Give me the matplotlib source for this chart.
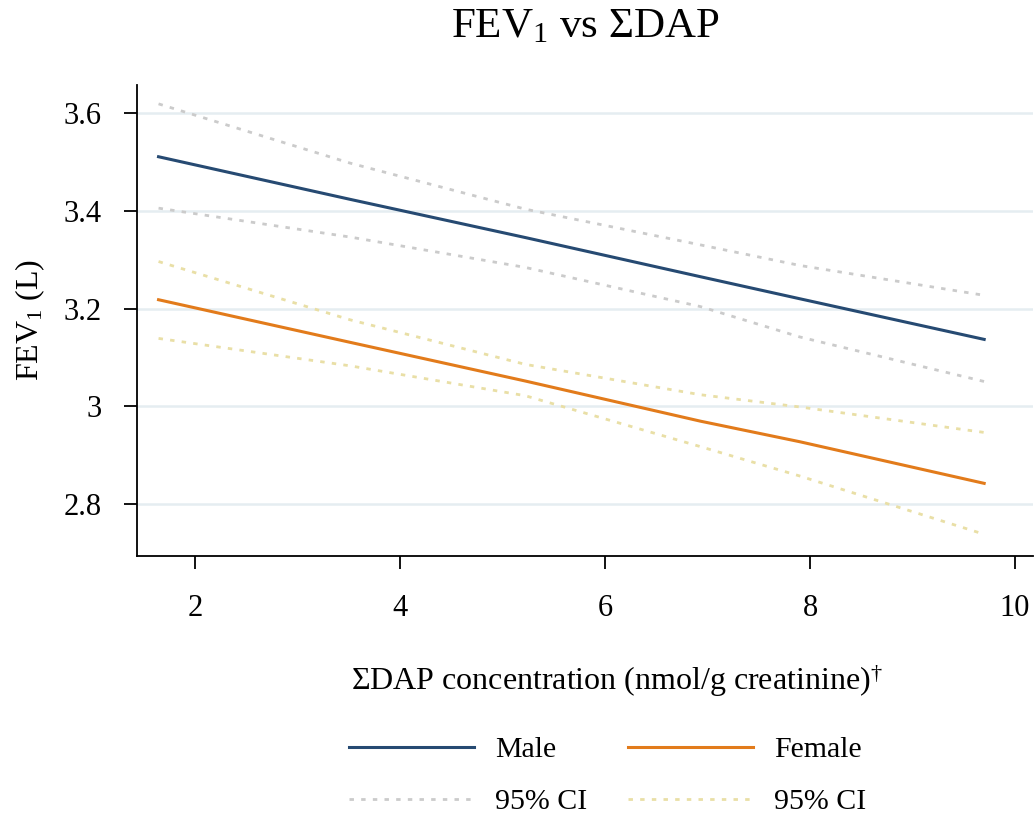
import numpy as np
import matplotlib
matplotlib.use('Agg')
import matplotlib.pyplot as plt

plt.rcParams['font.family'] = ['Liberation Serif', 'DejaVu Serif']
plt.rcParams['mathtext.fontset'] = 'custom'
plt.rcParams['mathtext.rm'] = 'Liberation Serif'
plt.rcParams['mathtext.it'] = 'Liberation Serif:italic'

# values
dap = [1.64, 3.51, 5.22, 6.93, 7.90, 9.70]

male_fit = [3.510, 3.423, 3.345, 3.265, 3.220, 3.137]
male_hi = [3.618, 3.497, 3.403, 3.330, 3.288, 3.227]
male_lo = [3.405, 3.346, 3.284, 3.204, 3.142, 3.051]

female_fit = [3.218, 3.131, 3.052, 2.970, 2.928, 2.843]
female_hi = [3.296, 3.177, 3.086, 3.024, 2.999, 2.947]
female_lo = [3.139, 3.083, 3.022, 2.918, 2.858, 2.739]

xticks = [2, 4, 6, 8, 10]
yticks = [2.8, 3.0, 3.2, 3.4, 3.6]
ytick_labels = ['2.8', '3', '3.2', '3.4', '3.6']

c_male = '#264a72'
c_female = '#e27b1b'
c_male_ci = '#cbcbcb'
c_female_ci = '#e9dfa6'
dots = (0, (1.6, 2.6))

fig = plt.figure(figsize=(10.35, 8.15), dpi=100)
ax = fig.add_axes([0.1324, 0.318, 0.866, 0.578])

for y in yticks:
    ax.axhline(y, color='#e5edf1', lw=1.8, zorder=0)

l1, = ax.plot(dap, male_fit, color=c_male, lw=2.2, label='Male')
l2, = ax.plot(dap, male_hi, color=c_male_ci, lw=2.0, ls=dots, label='95% CI')
ax.plot(dap, male_lo, color=c_male_ci, lw=2.0, ls=dots)
l3, = ax.plot(dap, female_fit, color=c_female, lw=2.2, label='Female')
l4, = ax.plot(dap, female_hi, color=c_female_ci, lw=2.0, ls=dots, label='95% CI')
ax.plot(dap, female_lo, color=c_female_ci, lw=2.0, ls=dots)

ax.set_xlim(1.43, 10.18)
ax.set_ylim(2.695, 3.657)
ax.set_xticks(xticks)
ax.set_yticks(yticks)
ax.set_yticklabels(ytick_labels)
ax.tick_params(axis='both', labelsize=22, length=9.5, width=1.3)
ax.tick_params(axis='y', pad=16)
ax.tick_params(axis='x', pad=18)

for s in ['top', 'right']:
    ax.spines[s].set_visible(False)
for s in ['left', 'bottom']:
    ax.spines[s].set_linewidth(1.3)

ax.set_xlabel(r'ΣDAP concentration (nmol/g creatinine)$^{\mathrm{†}}$', fontsize=23, labelpad=28, x=0.535)
ax.set_ylabel(r'FEV$_{\mathrm{1}}$ (L)', fontsize=23, labelpad=12)
ax.set_title(r'FEV$_{\mathrm{1}}$ vs ΣDAP', fontsize=31, pad=34)

fig.legend([l1, l2, l3, l4], ['Male', '95% CI', 'Female', '95% CI'],
           loc='center', bbox_to_anchor=(0.587, 0.048), ncol=2, frameon=False,
           fontsize=21.5, handlelength=4.2, handletextpad=0.7, columnspacing=1.35,
           labelspacing=0.85)

fig.savefig('out.png', dpi=100)
